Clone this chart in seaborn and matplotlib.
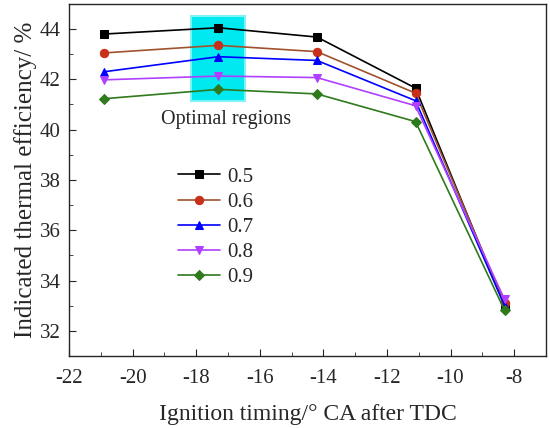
import numpy as np
import pandas as pd
import seaborn as sns
import matplotlib.pyplot as plt
from matplotlib.ticker import MultipleLocator
from matplotlib.patches import Rectangle

# ignition timing values (deg CA after TDC)
timing = [-20.9, -17.3, -14.2, -11.1, -8.3]

# indicated thermal efficiency for each excess ratio
eff_05 = [43.8, 44.05, 43.68, 41.65, 33.0]
eff_06 = [43.05, 43.35, 43.1, 41.45, 33.1]
eff_07 = [42.3, 42.9, 42.75, 41.15, 33.0]
eff_08 = [41.98, 42.13, 42.07, 40.95, 33.25]
eff_09 = [41.23, 41.6, 41.42, 40.32, 32.82]

labels = ["0.5", "0.6", "0.7", "0.8", "0.9"]
series = [eff_05, eff_06, eff_07, eff_08, eff_09]
markers = ["s", "o", "^", "v", "D"]
line_colors = ["#000000", "#a0522d", "#0000ff", "#b040ff", "#2f7a1c"]
face_colors = ["#000000", "#c8301a", "#0000ff", "#b040ff", "#2f7a1c"]

sns.set_style("ticks")
plt.rcParams["font.family"] = ["Liberation Serif", "DejaVu Serif"]
plt.rcParams["axes.unicode_minus"] = False

fig = plt.figure(figsize=(5.5, 4.28), dpi=100)
ax = fig.add_axes([0.1255, 0.168, 0.867, 0.823])

# highlighted optimal region
ax.add_patch(Rectangle((-18.15, 41.12), 1.7, 3.4, facecolor="#00e8f0",
                       edgecolor="#7ff4f8", linewidth=1.5, zorder=1))
ax.text(-17.05, 40.39, "Optimal regions", ha="center", va="center", fontsize=14.5)

for lab, ys, m, lc, fc in zip(labels, series, markers, line_colors, face_colors):
    df = pd.DataFrame({"x": timing, "y": ys})
    sns.lineplot(data=df, x="x", y="y", ax=ax, color=lc, marker=m,
                 markersize=6 if m != "D" else 5.5, markerfacecolor=fc,
                 markeredgecolor=fc, linewidth=1.2, label=lab, zorder=3)

ax.set_xlim(-22, -7)
ax.set_ylim(31, 45)
ax.xaxis.set_major_locator(MultipleLocator(2))
ax.xaxis.set_minor_locator(MultipleLocator(1))
ax.yaxis.set_major_locator(MultipleLocator(2))
ax.yaxis.set_minor_locator(MultipleLocator(1))
ax.tick_params(which="both", direction="in", labelsize=15)
ax.tick_params(which="major", length=5)
ax.tick_params(which="minor", length=3)
ax.tick_params(axis="x", which="major", pad=9)
ax.tick_params(axis="y", which="major", pad=6)
for s in ax.spines.values():
    s.set_linewidth(1.0)

ax.set_xlabel("Ignition timing/\u00b0 CA after TDC", fontsize=17, labelpad=12)
ax.set_ylabel("Indicated thermal efficiency/ %", fontsize=18, labelpad=2)

leg = ax.legend(loc="upper left", bbox_to_anchor=(0.19, 0.59), frameon=False,
                fontsize=15, handlelength=2.0, labelspacing=0.27, handletextpad=0.35)

fig.savefig("out.png", dpi=100)
